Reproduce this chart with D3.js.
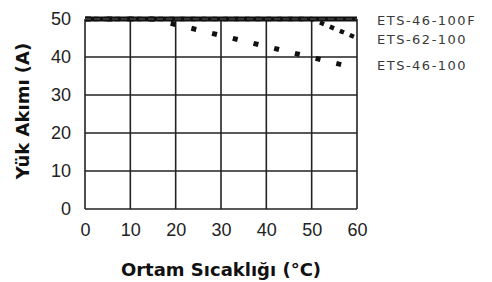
<!DOCTYPE html>
<html><head><meta charset="utf-8">
<script src="https://cdn.jsdelivr.net/npm/d3@7"></script>
<style>body{margin:0;background:#fff}svg{display:block}</style>
</head><body>
<svg id="c" width="492" height="282"></svg>
<script>
const xTicks = [0, 10, 20, 30, 40, 50, 60];
const yTicks = [0, 10, 20, 30, 40, 50];
const seriesNames = ["ETS-46-100F", "ETS-62-100", "ETS-46-100"];
const temps46F = [0, 60];
const load46F = [50, 50];
const temps62 = [0, 50, 60];
const load62 = [50, 50, 45];
const temps46 = [0, 15, 60];
const load46 = [50, 50, 37];

const svg = d3.select("#c");
const L = 85, T = 19, W = 272, H = 190;
const x = d3.scaleLinear().domain([0, 60]).range([L, L + W]);
const y = d3.scaleLinear().domain([0, 50]).range([T + H, T]);
const grid = "#222";

// grid
svg.append("g").selectAll("line").data(xTicks).join("line")
  .attr("x1", d => x(d)).attr("x2", d => x(d)).attr("y1", y(0)).attr("y2", y(50))
  .attr("stroke", grid).attr("stroke-width", 1.6);
svg.append("g").selectAll("line").data(yTicks).join("line")
  .attr("x1", x(0)).attr("x2", x(60)).attr("y1", d => y(d)).attr("y2", d => y(d))
  .attr("stroke", grid).attr("stroke-width", 1.6);

// axes labels
const xa = svg.append("g").attr("transform", `translate(0,${y(0)})`)
  .call(d3.axisBottom(x).tickValues(xTicks).tickSize(0).tickPadding(14));
xa.select(".domain").remove();
xa.selectAll("text").attr("font-family", "Liberation Sans, Arial, sans-serif").attr("font-size", 18).attr("fill", "#222");
const ya = svg.append("g").attr("transform", `translate(${x(0)},0)`)
  .call(d3.axisLeft(y).tickValues(yTicks).tickSize(0).tickPadding(14));
ya.select(".domain").remove();
ya.selectAll("text").attr("font-family", "Liberation Sans, Arial, sans-serif").attr("font-size", 18).attr("fill", "#222");

const line = d3.line().x(d => x(d[0])).y(d => y(d[1]));
const zip = (a, b) => a.map((v, i) => [v, b[i]]);

// ETS-46-100F solid thick
svg.append("path").attr("d", line(zip(temps46F, load46F)))
  .attr("fill", "none").attr("stroke", "#111").attr("stroke-width", 5);

// ETS-62-100 dotted
svg.append("path").attr("d", line(zip(temps62, load62)))
  .attr("fill", "none").attr("stroke", "#111").attr("stroke-width", 4.5)
  .attr("stroke-dasharray", "4.5,6.3").attr("stroke-dashoffset", -8.8);
// ETS-46-100 dotted
svg.append("path").attr("d", line(zip(temps46, load46)))
  .attr("fill", "none").attr("stroke", "#111").attr("stroke-width", 5)
  .attr("stroke-dasharray", "5,16.3").attr("stroke-dashoffset", -1);

// light dashes inside the thick top line
svg.append("path").attr("d", line(zip(temps46F, load46F)))
  .attr("fill", "none").attr("stroke", "#5a5a5a").attr("stroke-width", 1).attr("stroke-dasharray", "6,3");

// legend labels
const lbY = [25, 44, 70];
svg.append("g").selectAll("text").data(seriesNames).join("text")
  .attr("x", 377).attr("y", (d, i) => lbY[i])
  .attr("font-family", "DejaVu Sans, sans-serif").attr("font-size", 13)
  .attr("letter-spacing", 1.5).attr("fill", "#3a3a3a").text(d => d);

// titles
svg.append("text").attr("x", 221).attr("y", 276).attr("text-anchor", "middle")
  .attr("font-family", "DejaVu Sans, sans-serif").attr("font-weight", "bold").attr("font-size", 18)
  .attr("fill", "#111").text("Ortam Sıcaklığı (°C)");
svg.append("text").attr("transform", "translate(29,111) rotate(-90)").attr("text-anchor", "middle")
  .attr("font-family", "DejaVu Sans, sans-serif").attr("font-weight", "bold").attr("font-size", 18)
  .attr("fill", "#111").text("Yük Akımı (A)");
</script>
</body></html>
